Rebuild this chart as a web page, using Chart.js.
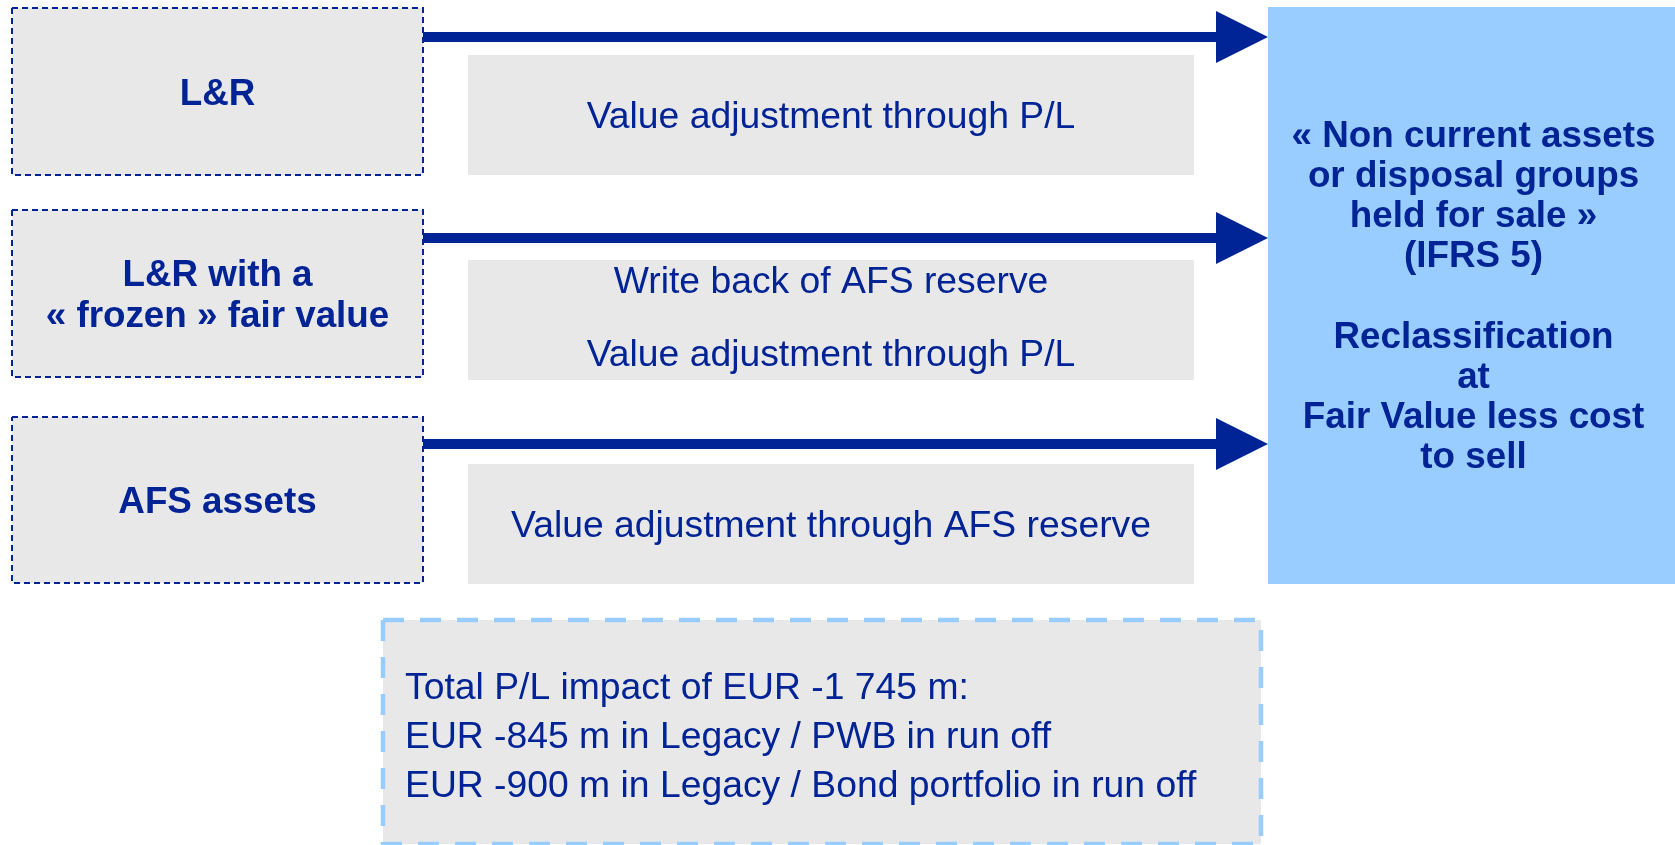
<!DOCTYPE html>
<html><head><meta charset="utf-8">
<script src="https://cdn.jsdelivr.net/npm/chart.js@4.4.1/dist/chart.umd.min.js"></script>
<style>html,body{margin:0;padding:0;background:#fff;overflow:hidden}canvas{display:block}</style>
</head><body>
<canvas id="c" width="1675" height="845"></canvas>
<script>
// ---------- content (text of the diagram) ----------
const sourceCategories = [["L&R"], ["L&R with a", "« frozen » fair value"], ["AFS assets"]];
const treatmentLabels = [["Value adjustment through P/L"],
                         ["Write back of AFS reserve", "Value adjustment through P/L"],
                         ["Value adjustment through AFS reserve"]];
const targetLabel = ["« Non current assets", "or disposal groups", "held for sale »", "(IFRS 5)", "",
                     "Reclassification", "at", "Fair Value less cost", "to sell"];
const impactLines = ["Total P/L impact of EUR -1 745 m:",
                     "EUR -845 m in Legacy / PWB in run off",
                     "EUR -900 m in Legacy / Bond portfolio in run off"];

// ---------- extents of the boxes, in sheet units (x: 0..1675, y: 0..845 downward) ----------
const sheetW = 1675, sheetH = 845;
const sourceLeft = 12, sourceRight = 423;
const sourceTops = [8, 210, 417], sourceBottoms = [175, 377, 583];
const treatLeft = 468, treatRight = 1194;
const treatTops = [55, 260, 464], treatBottoms = [175, 380, 584];
const arrowLevels = [37, 238, 444];
const arrowHeadBase = 1216, arrowTip = 1268, arrowHeadHalf = 26;
const targetExt = {x0: 1268, x1: 1675, y0: 7, y1: 584};
const impactExt = {x0: 383, x1: 1261, y0: 620, y1: 844};

// ---------- styles ----------
const NAVY = '#002395', SKY = '#99CCFF', GREY = '#E8E8E8';
const FONT = '"Liberation Sans", Arial, Helvetica, sans-serif';

function rect(x0, x1, y0, y1) {
  return [{x: x0, y: y0}, {x: x1, y: y0}, {x: x1, y: y1}, {x: x0, y: y1}, {x: x0, y: y0}];
}
const base = {showLine: true, pointRadius: 0, pointHoverRadius: 0, tension: 0,
              borderJoinStyle: 'miter', borderCapStyle: 'butt'};

const datasets = [];
arrowLevels.forEach((y, i) => {
  datasets.push(Object.assign({}, base, {label: 'arrowhead' + i,
    data: [{x: arrowHeadBase, y: y - arrowHeadHalf}, {x: arrowTip, y: y}, {x: arrowHeadBase, y: y + arrowHeadHalf}, {x: arrowHeadBase, y: y - arrowHeadHalf}],
    borderWidth: 0, borderColor: NAVY, backgroundColor: NAVY, fill: 'shape'}));
  datasets.push(Object.assign({}, base, {label: 'shaft' + i,
    data: [{x: sourceRight, y: y}, {x: arrowHeadBase + 2, y: y}],
    borderWidth: 10, borderColor: NAVY, fill: false}));
});
sourceCategories.forEach((c, i) => {
  datasets.push(Object.assign({}, base, {label: 'source' + i,
    data: rect(sourceLeft, sourceRight, sourceTops[i], sourceBottoms[i]),
    borderWidth: 2, borderDash: [6, 4], borderColor: NAVY, backgroundColor: GREY, fill: 'shape'}));
});
treatmentLabels.forEach((t, i) => {
  datasets.push(Object.assign({}, base, {label: 'treatment' + i,
    data: rect(treatLeft, treatRight, treatTops[i], treatBottoms[i]),
    borderWidth: 0, borderColor: GREY, backgroundColor: GREY, fill: 'shape'}));
});
datasets.push(Object.assign({}, base, {label: 'target',
  data: rect(targetExt.x0, targetExt.x1, targetExt.y0, targetExt.y1),
  borderWidth: 0, borderColor: SKY, backgroundColor: SKY, fill: 'shape'}));
datasets.push(Object.assign({}, base, {label: 'impact',
  data: rect(impactExt.x0, impactExt.x1, impactExt.y0, impactExt.y1),
  borderWidth: 4.5, borderDash: [21, 16], borderColor: SKY, backgroundColor: GREY, fill: 'shape'}));

const textPlugin = {
  id: 'diagramText',
  afterDatasetsDraw(chart) {
    const ctx = chart.ctx, sx = chart.scales.x, sy = chart.scales.y;
    const px = v => sx.getPixelForValue(v), py = v => sy.getPixelForValue(v);
    function block(lines, cx, cy, lh, size, bold, align) {
      ctx.save();
      ctx.font = (bold ? 'bold ' : '') + size + 'px ' + FONT;
      ctx.fillStyle = NAVY;
      ctx.textAlign = align || 'center';
      ctx.textBaseline = 'alphabetic';
      const n = lines.length, capHalf = size * 0.716 / 2;
      lines.forEach((s, i) => {
        if (s) ctx.fillText(s, cx, cy + (i - (n - 1) / 2) * lh + capHalf);
      });
      ctx.restore();
    }
    sourceCategories.forEach((lines, i) => {
      block(lines, px((sourceLeft + sourceRight) / 2), py((sourceTops[i] + sourceBottoms[i]) / 2), 40.5, 36.8, true);
    });
    treatmentLabels.forEach((lines, i) => {
      block(lines, px((treatLeft + treatRight) / 2), py((treatTops[i] + treatBottoms[i]) / 2) - (lines.length > 1 ? 4 : 0), 73, 37.3, false);
    });
    block(targetLabel, px((targetExt.x0 + targetExt.x1) / 2 + 2), py((targetExt.y0 + targetExt.y1) / 2 - 1), 40.2, 36.8, true);
    block(impactLines, px(impactExt.x0 + 22), py((impactExt.y0 + impactExt.y1) / 2 + 3), 49, 37.3, false, 'left');
  }
};

new Chart(document.getElementById('c'), {
  type: 'scatter',
  data: {datasets},
  options: {
    responsive: false, animation: false, devicePixelRatio: 1,
    layout: {padding: 0},
    plugins: {legend: {display: false}, tooltip: {enabled: false}},
    events: [],
    scales: {
      x: {type: 'linear', min: 0, max: sheetW, display: false},
      y: {type: 'linear', min: 0, max: sheetH, reverse: true, display: false}
    }
  },
  plugins: [textPlugin]
});
</script>
</body></html>
